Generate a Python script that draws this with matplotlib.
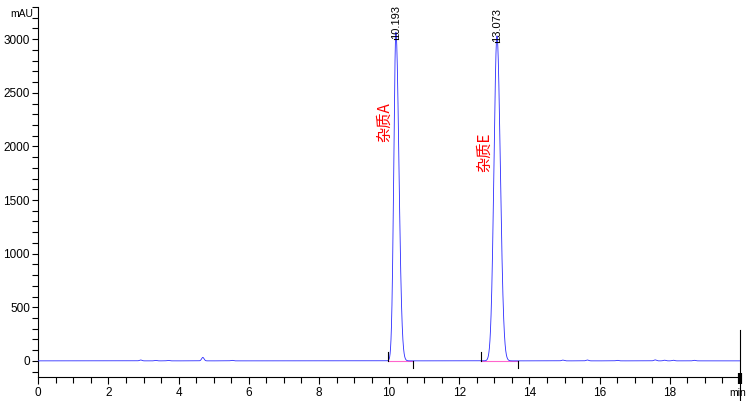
import numpy as np
import matplotlib
matplotlib.use("Agg")
import matplotlib.pyplot as plt
from matplotlib.ticker import MultipleLocator, FixedLocator

plt.rcParams['font.family'] = ['Liberation Sans', 'Noto Sans CJK SC', 'DejaVu Sans']

# main peaks (retention time in min, height in mAU, left/right widths)
peak_rt = [10.193, 13.073]
peak_height = [3065, 3030]
peak_sigma_left = [0.060, 0.085]
peak_sigma_right = [0.085, 0.095]
peak_labels = ["10.193", "13.073"]

# compound names written beside the peaks
name_text = ["杂质A", "杂质E"]
name_x = [9.88, 12.73]
name_y = [2230, 1950]

# small baseline bumps
bump_rt = [2.92, 3.35, 3.7, 4.69, 5.52, 14.95, 15.65, 16.5, 17.58, 17.85, 18.1, 18.7]
bump_height = [8, 4, 4, 32, 5, 7, 8, 5, 9, 6, 6, 5]

# integration baseline start/end points
base_start = [9.98, 12.62]
base_end = [10.67, 13.67]

x_ticks = [0, 2, 4, 6, 8, 10, 12, 14, 16, 18]

# build the detector trace
t = np.linspace(0, 20, 8001)
signal = np.zeros_like(t)
for rt, h, sl, sr in zip(peak_rt, peak_height, peak_sigma_left, peak_sigma_right):
    s = np.where(t < rt, sl, sr)
    signal += h * np.exp(-0.5 * ((t - rt) / s) ** 2)
for rt, h in zip(bump_rt, bump_height):
    signal += h * np.exp(-0.5 * ((t - rt) / 0.035) ** 2)

fig = plt.figure(figsize=(7.49, 4.01), dpi=100)
ax = fig.add_axes([0.0511, 0.06, 0.9369, 0.9225])

ax.plot(t, signal, color='#2a2aff', lw=0.6, zorder=3)

# integration baselines and markers
for s0, s1 in zip(base_start, base_end):
    ax.plot([s0, s1], [0, 0], color='#ff66cc', lw=0.8, zorder=2)
    ax.plot([s0, s0], [0, 80], color='black', lw=0.8, zorder=4)
    ax.plot([s1, s1], [0, -70], color='black', lw=0.8, zorder=4)

# retention time labels
for rt, h, lab in zip(peak_rt, peak_height, peak_labels):
    ax.plot([rt - 0.05, rt + 0.05], [h - 60, h - 60], color='black', lw=0.8, zorder=4)
    ax.text(rt, h - 60, lab, rotation=90, ha='center', va='bottom', fontsize=8, color='black')

for txt, x, y in zip(name_text, name_x, name_y):
    ax.text(x, y, txt, rotation=90, ha='center', va='center', fontsize=11, color='red',
            family=['Noto Sans CJK SC', 'DejaVu Sans'])

ax.set_xlim(0, 20)
ax.set_ylim(-150, 3300)

ax.spines['top'].set_visible(False)
ax.spines['right'].set_visible(False)
ax.spines['left'].set_linewidth(0.8)
ax.spines['bottom'].set_linewidth(0.8)

ax.xaxis.set_major_locator(FixedLocator(x_ticks))
ax.xaxis.set_minor_locator(MultipleLocator(0.5))
ax.yaxis.set_major_locator(MultipleLocator(500))
ax.yaxis.set_minor_locator(MultipleLocator(100))
ax.tick_params(axis='both', which='both', direction='out', length=4, width=0.8, labelsize=8.5, pad=2)
ax.tick_params(axis='x', which='major', length=5)

# end marker at the right of the time axis
ax.plot([20, 20], [-450, 290], color='black', lw=0.8, clip_on=False)
ax.plot([20, 20], [-215, -110], color='black', lw=3, clip_on=False, solid_capstyle='butt')

fig.text(0.014, 0.965, "mAU", fontsize=7.5, ha='left', va='center')
fig.text(0.974, 0.02, "min", fontsize=7.5, ha='left', va='center')

fig.savefig("out.png", dpi=100)
